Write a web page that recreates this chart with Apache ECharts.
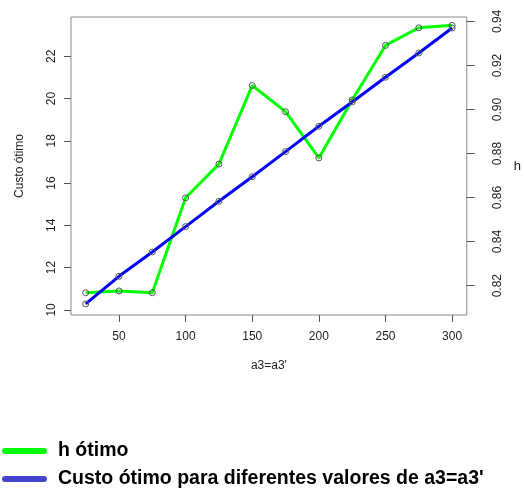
<!DOCTYPE html>
<html>
<head>
<meta charset="utf-8">
<script src="https://cdn.jsdelivr.net/npm/echarts@6/dist/echarts.min.js"></script>
<style>html,body{margin:0;padding:0;background:#fff;}#c{width:524px;height:492px;}</style>
</head>
<body>
<div id="c"></div>
<script>
const a3 = [25, 50, 75, 100, 125, 150, 175, 200, 225, 250, 275, 300];
const hOtimo = [0.8168, 0.8176, 0.8168, 0.8599, 0.8752, 0.9109, 0.8990, 0.8780, 0.9043, 0.9291, 0.9371, 0.9382];
const custoOtimo = [10.28, 11.59, 12.74, 13.94, 15.14, 16.30, 17.49, 18.69, 19.84, 21.01, 22.16, 23.34];
const xTicks = [50, 100, 150, 200, 250, 300];
const leftTicks = [10, 12, 14, 16, 18, 20, 22];
const rightTicks = [0.82, 0.84, 0.86, 0.88, 0.90, 0.92, 0.94];

const chart = echarts.init(document.getElementById('c'));
const font = 'Liberation Sans, Arial, sans-serif';
const pts = (xs, ys) => xs.map((x, i) => [x, ys[i]]);

chart.setOption({
  animation: false,
  textStyle: { fontFamily: font },
  grid: { left: 71, right: 56, top: 17, bottom: 177, show: true, borderColor: '#8a8a8a', borderWidth: 1 },
  legend: {
    orient: 'vertical', left: 2, top: 441, padding: 0, itemWidth: 45, itemHeight: 6, itemGap: 8,
    icon: 'path://M3,0 L42,0 A3,3 0 0 1 42,6 L3,6 A3,3 0 0 1 3,0 Z',
    textStyle: { fontSize: 19.5, fontWeight: 'bold', color: '#000', fontFamily: font, padding: [0, 0, 0, 6] },
    data: [
      { name: 'h ótimo', itemStyle: { color: '#00ff00', borderWidth: 0 } },
      { name: "Custo ótimo para diferentes valores de a3=a3'", itemStyle: { color: '#4444cc', borderWidth: 0 } }
    ]
  },
  xAxis: {
    type: 'value', min: 14, max: 311,
    name: "a3=a3'", nameLocation: 'middle', nameGap: 45,
    nameTextStyle: { fontSize: 12, color: '#222' },
    axisLine: { show: false }, splitLine: { show: false },
    axisTick: { show: true, length: 7, lineStyle: { color: '#555' }, customValues: xTicks },
    axisLabel: { fontSize: 12, color: '#222', margin: 16, customValues: xTicks }
  },
  yAxis: [
    {
      type: 'value', min: 9.7576, max: 23.8624, position: 'left',
      name: 'Custo ótimo', nameLocation: 'middle', nameGap: 45, nameRotate: 90,
      nameTextStyle: { fontSize: 12, color: '#222' },
      axisLine: { show: false }, splitLine: { show: false },
      axisTick: { show: true, length: 7, lineStyle: { color: '#555' }, customValues: leftTicks },
      axisLabel: { fontSize: 12, color: '#222', rotate: 90, margin: 13, customValues: leftTicks }
    },
    {
      type: 'value', min: 0.80668, max: 0.942, position: 'right',
      name: 'h', nameLocation: 'middle', nameGap: 47, nameRotate: 0,
      nameTextStyle: { fontSize: 13, color: '#222' },
      axisLine: { show: false }, splitLine: { show: false },
      axisTick: { show: true, length: 8, lineStyle: { color: '#555' }, customValues: rightTicks },
      axisLabel: { fontSize: 12, color: '#222', rotate: 90, margin: 25, customValues: rightTicks,
        formatter: v => v.toFixed(2) }
    }
  ],
  series: [
    {
      name: 'h ótimo', type: 'line', yAxisIndex: 1, data: pts(a3, hOtimo),
      lineStyle: { color: '#00ff00', width: 3 },
      symbol: 'circle', symbolSize: 6,
      itemStyle: { color: 'rgba(0,0,0,0)', borderColor: '#555', borderWidth: 1 }
    },
    {
      name: "Custo ótimo para diferentes valores de a3=a3'", type: 'line', yAxisIndex: 0, data: pts(a3, custoOtimo),
      lineStyle: { color: '#0000ff', width: 3 },
      symbol: 'circle', symbolSize: 6,
      itemStyle: { color: 'rgba(0,0,0,0)', borderColor: '#555', borderWidth: 1 }
    }
  ]
});
</script>
</body>
</html>
